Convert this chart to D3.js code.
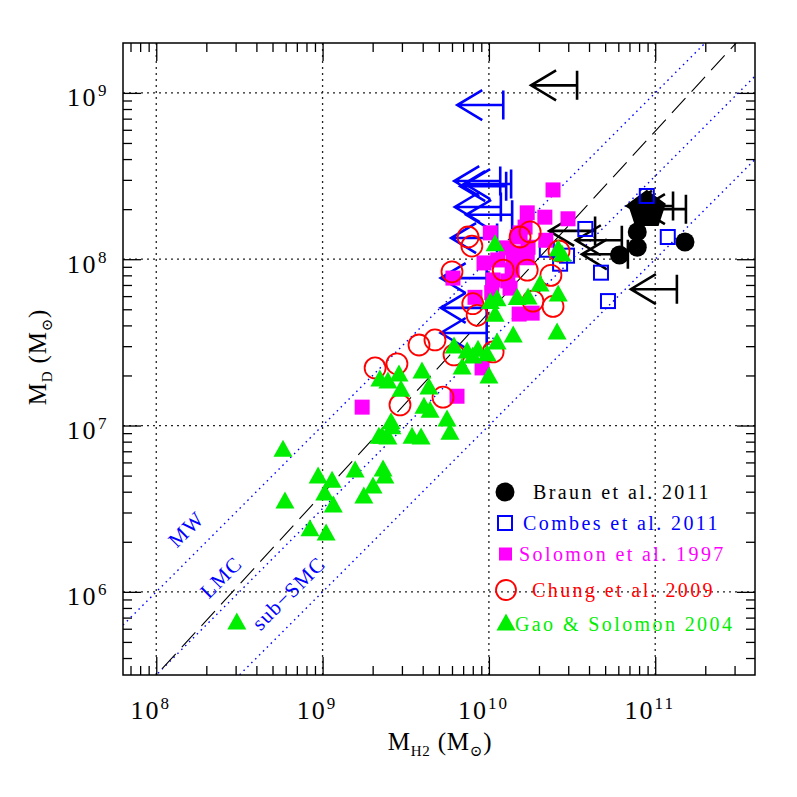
<!DOCTYPE html>
<html><head><meta charset="utf-8">
<script src="https://cdn.jsdelivr.net/npm/d3@7"></script>
<style>body{margin:0;background:#fff}svg{display:block}</style>
</head><body>
<script>
// ---------- data (solar masses) ----------
const braunMH2 = [6.1e10, 7.8e10, 7.8e10, 1.51e11];
const braunMD  = [1.06e8, 1.18e8, 1.46e8, 1.27e8];
const braunBigMH2 = [8.9e10];
const braunBigMD  = [1.98e8];
const braunLimMH2 = [3.39e10, 4.35e10, 6.3e10, 6.85e10, 1.35e11, 1.53e11, 1.28e11];
const braunLimMD  = [1.11e9, 1.48e8, 1.30e8, 1.07e8, 6.6e7, 2.0e8, 2.09e8];

const combesMH2 = [8.9e10, 3.8e10, 1.19e11, 4.72e10, 5.2e10, 2.95e10, 2.68e10, 2.23e10];
const combesMD  = [2.4e8, 1.52e8, 1.36e8, 8.3e7, 5.6e7, 1.05e8, 9.4e7, 1.14e8];
const combesLimMH2 = [1.22e10, 1.17e10, 1.36e10, 1.27e10, 1.18e10, 1.38e10, 1.12e10, 9.7e9, 9.7e9, 9.7e9];
const combesLimMD  = [8.45e8, 2.95e8, 2.83e8, 2.75e8, 2.06e8, 1.85e8, 1.34e8, 7.7e7, 5.1e7, 3.6e7];

const solomonMH2 = [2.43e10, 1.70e10, 2.17e10, 2.99e10, 1.02e10, 1.65e10, 1.48e10, 2.20e10, 1.72e10, 1.54e10,
                    1.27e10, 9.35e9, 1.13e10, 1.38e10, 1.70e10, 6.08e9, 1.06e10, 1.30e10, 8.25e9, 1.04e10,
                    1.34e10, 1.52e10, 1.82e10, 9.1e9, 1.73e9, 6.43e9, 1.54e10, 1.40e10];
const solomonMD  = [2.61e8, 1.90e8, 1.79e8, 1.75e8, 1.44e8, 1.56e8, 1.36e8, 1.30e8, 1.18e8, 1.09e8,
                    1.17e8, 9.5e7, 9.9e7, 8.6e7, 1.02e8, 7.7e7, 7.5e7, 7.4e7, 5.9e7, 6.3e7,
                    6.7e7, 4.68e7, 4.74e7, 2.22e7, 1.29e7, 1.50e7, 1.44e8, 1.03e8];

const chungMH2 = [7.5e9, 7.9e9, 6.0e9, 8.0e9, 8.5e9, 3.8e9, 4.74e9, 6.17e9, 2.07e9, 2.80e9,
                  2.92e9, 5.3e9, 1.06e10, 2.43e10, 2.36e10, 2.64e10, 1.77e10, 1.70e10, 1.84e10, 1.54e10, 1.22e10];
const chungMD  = [1.36e8, 1.20e8, 8.4e7, 5.4e7, 4.6e7, 3.05e7, 3.27e7, 2.66e7, 2.22e7, 2.35e7,
                  1.33e7, 1.48e7, 2.77e7, 5.2e7, 8.0e7, 1.12e8, 1.46e8, 8.6e7, 5.6e7, 1.36e8, 8.6e7];

const gaoMH2 = [5.78e8, 5.94e8, 3.05e8, 9.4e8, 1.14e9, 1.03e9, 1.16e9, 1.57e9, 2.31e9, 2.37e9,
                2.01e9, 1.77e9, 8.4e8, 1.05e9, 2.28e9, 2.61e9, 2.47e9, 2.21e9, 2.47e9, 2.88e9,
                2.96e9, 3.96e9, 4.36e9, 4.07e9, 4.43e9, 2.58e9, 2.18e9, 3.45e9, 3.91e9, 5.6e9,
                5.83e9, 6.17e9, 7.4e9, 8.6e9, 9.75e9, 8.0e9, 6.9e9, 1.0e10, 1.02e10, 1.12e10,
                1.48e10, 1.72e10, 2.03e10, 2.61e10, 1.09e10, 1.40e10, 2.57e10, 1.12e10, 1.09e10, 2.61e10, 2.75e10];
const gaoMD  = [7.1e6, 3.47e6, 6.5e5, 4.9e6, 4.63e6, 3.87e6, 3.28e6, 5.32e6, 5.40e6, 4.9e6,
                4.27e6, 3.72e6, 2.36e6, 2.23e6, 8.5e6, 9.7e6, 8.4e6, 1.88e7, 1.83e7, 2.01e7,
                1.63e7, 2.10e7, 1.68e7, 1.29e7, 1.22e7, 1.04e7, 8.5e6, 8.5e6, 8.4e6, 1.08e7,
                9.0e6, 2.97e7, 2.77e7, 2.84e7, 2.66e7, 2.58e7, 2.22e7, 1.96e7, 5.5e7, 5.7e7,
                5.8e7, 5.85e7, 7.0e7, 6.1e7, 4.6e7, 3.45e7, 3.6e7, 3.13e7, 1.22e8, 1.14e8, 1.06e8];

// gas-to-dust reference lines: M_D = M_H2 / ratio
const refNames  = ["MW", "LMC", "sub\u2212SMC"];
const refRatios = [100, 316, 1000];
const refLabelAt = [1.55e8, 2.52e8, 6.4e8];   // M_H2 where each label sits
// fitted relation: log M_D = slope * log M_H2 + intercept
const fitSlope = 1.09, fitIntercept = -3.22;

const xTickLabels = ["8", "9", "10", "11"];
const yTickLabels = ["6", "7", "8", "9"];

const legendNames  = ["Braun et al. 2011", "Combes et al. 2011", "Solomon et al. 1997", "Chung et al. 2009", "Gao & Solomon 2004"];
const legendColors = ["#000000", "#0000ff", "#ff00ff", "#ff0000", "#00ee00"];

// ---------- layout ----------
const W = 797, H = 797;
const L = 123, R = 755, T = 43, B = 675;
const FONT = "'Liberation Serif', 'DejaVu Serif', serif";

const svg = d3.select("body").append("svg").attr("width", W).attr("height", H);
const x = d3.scaleLog().domain([10 ** 7.8, 10 ** 11.6]).range([L, R]);
const y = d3.scaleLog().domain([10 ** 5.5, 10 ** 9.3]).range([B, T]);

svg.append("defs").append("clipPath").attr("id", "clip")
  .append("rect").attr("x", L).attr("y", T).attr("width", R - L).attr("height", B - T);

const xMajor = xTickLabels.map(e => 10 ** (+e));
const yMajor = yTickLabels.map(e => 10 ** (+e));
const minorsFor = (dom) => {
  const out = [];
  for (let k = 5; k <= 11; k++) for (let m = 2; m <= 9; m++) {
    const v = m * 10 ** k;
    if (v > dom[0] && v < dom[1]) out.push(v);
  }
  return out;
};
const xMinor = minorsFor(x.domain());
const yMinor = minorsFor(y.domain());

// grid
const grid = svg.append("g").attr("stroke", "#222").attr("stroke-width", 1.3).attr("stroke-dasharray", "2,4");
grid.selectAll("line.gx").data(xMajor).join("line")
  .attr("x1", d => x(d)).attr("x2", d => x(d)).attr("y1", T).attr("y2", B);
grid.selectAll("line.gy").data(yMajor).join("line")
  .attr("y1", d => y(d)).attr("y2", d => y(d)).attr("x1", L).attr("x2", R);

// ticks via d3 axes (inside)
function styleAxis(g) { g.select(".domain").remove(); g.selectAll("line").attr("stroke", "#000").attr("stroke-width", 1.3); }
svg.append("g").attr("transform", `translate(0,${B})`).call(d3.axisBottom(x).tickValues(xMinor).tickSize(-9).tickFormat("")).call(styleAxis);
svg.append("g").attr("transform", `translate(0,${T})`).call(d3.axisTop(x).tickValues(xMinor).tickSize(-9).tickFormat("")).call(styleAxis);
svg.append("g").attr("transform", `translate(${L},0)`).call(d3.axisLeft(y).tickValues(yMinor).tickSize(-9).tickFormat("")).call(styleAxis);
svg.append("g").attr("transform", `translate(${R},0)`).call(d3.axisRight(y).tickValues(yMinor).tickSize(-9).tickFormat("")).call(styleAxis);
svg.append("g").attr("transform", `translate(0,${T})`).call(d3.axisTop(x).tickValues(xMajor).tickSize(-18).tickFormat("")).call(styleAxis);
svg.append("g").attr("transform", `translate(${R},0)`).call(d3.axisRight(y).tickValues(yMajor).tickSize(-18).tickFormat("")).call(styleAxis);

const xAx = svg.append("g").attr("transform", `translate(0,${B})`)
  .call(d3.axisBottom(x).tickValues(xMajor).tickSize(-18).tickPadding(26).tickFormat(() => "")).call(styleAxis);
xAx.selectAll("text").each(function (d, i) {
  const t = d3.select(this).attr("font-family", FONT).attr("font-size", 26).attr("fill", "#000").attr("dx", -6)
    .attr("letter-spacing", 2);
  t.append("tspan").text("10");
  t.append("tspan").attr("dy", -10).attr("font-size", 17).text(xTickLabels[i]);
});
const yAx = svg.append("g").attr("transform", `translate(${L},0)`)
  .call(d3.axisLeft(y).tickValues(yMajor).tickSize(-18).tickPadding(14).tickFormat(() => "")).call(styleAxis);
yAx.selectAll("text").each(function (d, i) {
  const t = d3.select(this).attr("font-family", FONT).attr("font-size", 26).attr("fill", "#000").attr("dy", "0.5em")
    .attr("letter-spacing", 2.5);
  t.append("tspan").text("10");
  t.append("tspan").attr("dy", -10).attr("font-size", 17).text(yTickLabels[i]);
});

// reference lines
const plot = svg.append("g").attr("clip-path", "url(#clip)");
const xd = x.domain();
plot.selectAll("line.ref").data(refRatios).join("line")
  .attr("x1", x(xd[0])).attr("y1", d => y(xd[0] / d))
  .attr("x2", x(xd[1])).attr("y2", d => y(xd[1] / d))
  .attr("stroke", "#0000ff").attr("stroke-width", 1.4).attr("stroke-dasharray", "1.5,4");
const fit = v => 10 ** (fitSlope * Math.log10(v) + fitIntercept);
plot.append("line")
  .attr("x1", x(xd[0])).attr("y1", y(fit(xd[0])))
  .attr("x2", x(xd[1])).attr("y2", y(fit(xd[1])))
  .attr("stroke", "#000").attr("stroke-width", 1.1).attr("stroke-dasharray", "20,9");

// reference line labels (placed along each line, offset above it)
svg.selectAll("text.ref").data(refNames).join("text")
  .attr("transform", (d, i) => {
    const px = x(refLabelAt[i]) - 2, py = y(refLabelAt[i] / refRatios[i]) - 31;
    return `translate(${px},${py}) rotate(-45)`;
  })
  .attr("text-anchor", "middle").attr("dy", "0.35em")
  .attr("font-family", FONT).attr("font-size", 21).attr("fill", "#0000ff").attr("letter-spacing", 1.2)
  .text(d => d);

// ---------- markers ----------
const zip = (a, b) => a.map((v, i) => [v, b[i]]);
const arrowPath = ([mx, md]) => {
  const bx = x(mx), by = y(md);
  return `M${bx},${by - 14.5}L${bx},${by + 14.5}M${bx},${by}L${bx - 46},${by}M${bx - 21},${by - 15}L${bx - 46},${by}L${bx - 21},${by + 15}`;
};
const pent = (r) => d3.range(5).map(k => {
  const a = -Math.PI / 2 + k * 2 * Math.PI / 5; return [r * Math.cos(a), r * Math.sin(a)];
});

// Braun
plot.selectAll("circle.braun").data(zip(braunMH2, braunMD)).join("circle")
  .attr("cx", d => x(d[0])).attr("cy", d => y(d[1])).attr("r", 9.5).attr("fill", "#000");
plot.selectAll("path.braunBig").data(zip(braunBigMH2, braunBigMD)).join("path")
  .attr("transform", d => `translate(${x(d[0])},${y(d[1])})`)
  .attr("d", "M" + pent(20).join("L") + "Z").attr("fill", "#000");
plot.selectAll("path.braunLim").data(zip(braunLimMH2, braunLimMD)).join("path")
  .attr("d", arrowPath).attr("fill", "none").attr("stroke", "#000").attr("stroke-width", 2.6);

// Combes
plot.selectAll("path.combLim").data(zip(combesLimMH2, combesLimMD)).join("path")
  .attr("d", arrowPath).attr("fill", "none").attr("stroke", "#0000ff").attr("stroke-width", 2.6);
plot.selectAll("rect.comb").data(zip(combesMH2, combesMD)).join("rect")
  .attr("x", d => x(d[0]) - 7).attr("y", d => y(d[1]) - 7).attr("width", 14).attr("height", 14)
  .attr("fill", "none").attr("stroke", "#0000ff").attr("stroke-width", 2);

// Solomon
plot.selectAll("rect.sol").data(zip(solomonMH2, solomonMD)).join("rect")
  .attr("x", d => x(d[0]) - 7.5).attr("y", d => y(d[1]) - 7.5).attr("width", 15).attr("height", 15)
  .attr("fill", "#ff00ff");

// Chung
plot.selectAll("circle.chung").data(zip(chungMH2, chungMD)).join("circle")
  .attr("cx", d => x(d[0])).attr("cy", d => y(d[1])).attr("r", 10.5)
  .attr("fill", "none").attr("stroke", "#ff0000").attr("stroke-width", 1.8);

// Gao
const tri = "M0,-10.5L9.5,6.5L-9.5,6.5Z";
plot.selectAll("path.gao").data(zip(gaoMH2, gaoMD)).join("path")
  .attr("transform", d => `translate(${x(d[0])},${y(d[1])})`).attr("d", tri).attr("fill", "#00ee00");

// frame
svg.append("rect").attr("x", L).attr("y", T).attr("width", R - L).attr("height", B - T)
  .attr("fill", "none").attr("stroke", "#000").attr("stroke-width", 1.5);

// ---------- legend ----------
const legY = [492, 523, 554, 590, 624];
const legTextX = [533, 523, 519, 532, 515];
const leg = svg.append("g");
leg.append("circle").attr("cx", 505).attr("cy", legY[0]).attr("r", 9.5).attr("fill", legendColors[0]);
leg.append("rect").attr("x", 498).attr("y", legY[1] - 7).attr("width", 14).attr("height", 14)
  .attr("fill", "none").attr("stroke", legendColors[1]).attr("stroke-width", 2);
leg.append("rect").attr("x", 499).attr("y", legY[2] - 6.5).attr("width", 13).attr("height", 13).attr("fill", legendColors[2]);
leg.append("circle").attr("cx", 506).attr("cy", legY[3]).attr("r", 10).attr("fill", "none")
  .attr("stroke", legendColors[3]).attr("stroke-width", 1.8);
leg.append("path").attr("transform", `translate(506,${legY[4]})`).attr("d", tri).attr("fill", legendColors[4]);
leg.selectAll("text").data(legendNames).join("text")
  .attr("x", (d, i) => legTextX[i]).attr("y", (d, i) => legY[i]).attr("dy", "0.35em")
  .attr("font-family", FONT).attr("font-size", 20).attr("letter-spacing", 2.4)
  .attr("fill", (d, i) => legendColors[i]).text(d => d);

// ---------- axis titles ----------
const xt = svg.append("text").attr("x", 440).attr("y", 750).attr("text-anchor", "middle")
  .attr("font-family", FONT).attr("font-size", 25).attr("fill", "#000").attr("letter-spacing", 0.8);
xt.append("tspan").text("M");
xt.append("tspan").attr("dy", 6).attr("font-size", 15).text("H2");
xt.append("tspan").attr("dy", -6).text(" (M");
xt.append("tspan").attr("dy", 6).attr("font-size", 15).text("\u2299");
xt.append("tspan").attr("dy", -6).text(")");

const yt = svg.append("text").attr("transform", "translate(46,357) rotate(-90)").attr("text-anchor", "middle")
  .attr("font-family", FONT).attr("font-size", 25).attr("fill", "#000").attr("letter-spacing", 0.8);
yt.append("tspan").text("M");
yt.append("tspan").attr("dy", 6).attr("font-size", 15).text("D");
yt.append("tspan").attr("dy", -6).text(" (M");
yt.append("tspan").attr("dy", 6).attr("font-size", 15).text("\u2299");
yt.append("tspan").attr("dy", -6).text(")");
</script>
</body></html>
